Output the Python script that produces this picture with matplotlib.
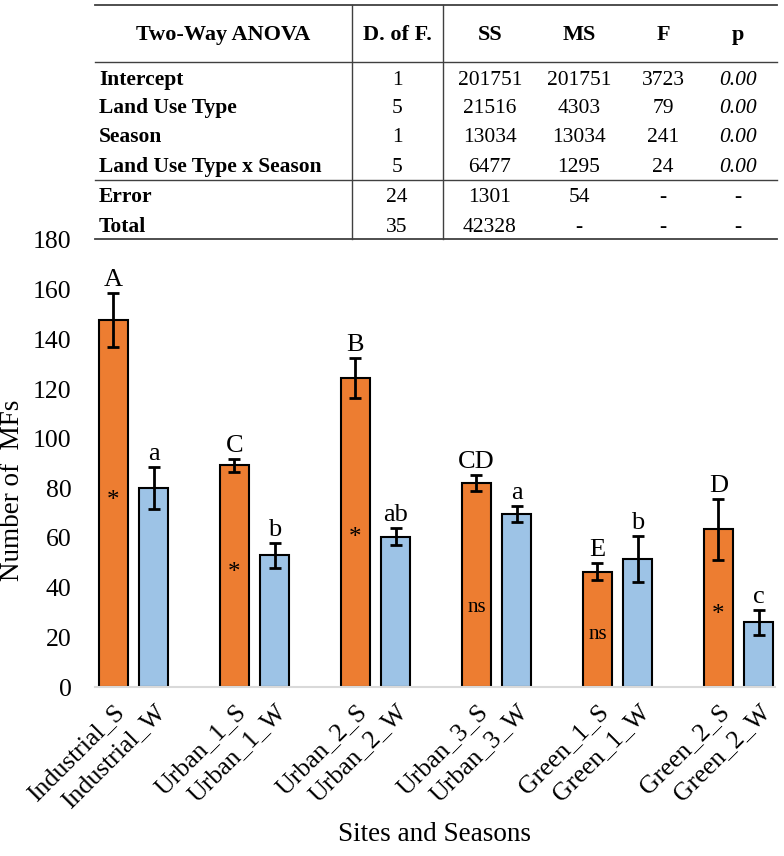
import numpy as np
import matplotlib.pyplot as plt

plt.rcParams['font.family'] = ['Liberation Serif', 'DejaVu Serif']

sites = ["Industrial", "Urban_1", "Urban_2", "Urban_3", "Green_1", "Green_2"]
summer = [147.7, 89.2, 124.4, 82.1, 46.4, 63.5]
summer_err = [10.8, 2.7, 8.0, 3.2, 3.5, 12.2]
winter = [80.0, 53.0, 60.5, 69.6, 51.5, 26.1]
winter_err = [8.5, 5.0, 3.4, 3.3, 9.3, 5.0]
summer_letters = ["A", "C", "B", "CD", "E", "D"]
winter_letters = ["a", "b", "ab", "a", "b", "c"]
signif = ["*", "*", "*", "ns", "ns", "*"]
signif_y = [76, 47, 61, 32, 21, 30]

tab_header = ["Two-Way ANOVA", "D. of F.", "SS", "MS", "F", "p"]
tab_rows = [
    ["Intercept", "1", "201751", "201751", "3723", "0.00"],
    ["Land Use Type", "5", "21516", "4303", "79", "0.00"],
    ["Season", "1", "13034", "13034", "241", "0.00"],
    ["Land Use Type x Season", "5", "6477", "1295", "24", "0.00"],
    ["Error", "24", "1301", "54", "-", "-"],
    ["Total", "35", "42328", "-", "-", "-"],
]

orange = "#ED7D31"
blue = "#9DC3E6"

fig = plt.figure(figsize=(7.84, 8.56), dpi=100)
W, H = 784, 856
ax = fig.add_axes([95 / W, 1 - 687 / H, 680 / W, 447 / H])

x = np.arange(len(sites))
off = 0.167
bw = 0.24
ax.bar(x - off, summer, bw, color=orange, edgecolor="black", linewidth=1.5, zorder=2)
ax.bar(x + off, winter, bw, color=blue, edgecolor="black", linewidth=1.5, zorder=2)
ax.errorbar(x - off, summer, yerr=summer_err, fmt="none", ecolor="black",
            elinewidth=2, capsize=4, capthick=2, zorder=3)
ax.errorbar(x + off, winter, yerr=winter_err, fmt="none", ecolor="black",
            elinewidth=2, capsize=4, capthick=2, zorder=3)

for i in range(len(sites)):
    ax.text(x[i] - off, summer[i] + summer_err[i] + 0.8, summer_letters[i],
            ha="center", va="bottom", fontsize=19)
    ax.text(x[i] + off, winter[i] + winter_err[i] + 0.8, winter_letters[i],
            ha="center", va="bottom", fontsize=19)
    if signif[i] == "*":
        ax.text(x[i] - off, signif_y[i] - 1, "*", ha="center", va="center", fontsize=18)
    else:
        ax.text(x[i] - off, signif_y[i], "ns", ha="center", va="center", fontsize=15)

ticks = []
labels = []
for i, s in enumerate(sites):
    ticks += [x[i] - off, x[i] + off]
    labels += [s + "_S", s + "_W"]
ax.set_xticks(ticks)
ax.set_xticklabels(labels, rotation=45, ha="right", rotation_mode="anchor", fontsize=18.5)
ax.tick_params(axis="x", length=0, pad=10)
ax.tick_params(axis="y", length=0, labelsize=18.5, pad=17)
ax.set_xlim(-0.318, 5.30)
ax.set_ylim(0, 180)
ax.set_yticks(np.arange(0, 181, 20))
for s in ["top", "right", "left"]:
    ax.spines[s].set_visible(False)
ax.spines["bottom"].set_color("#d9d9d9")
ax.spines["bottom"].set_linewidth(1.5)
ax.set_ylabel("Number of  MFs", fontsize=19.5)
ax.yaxis.set_label_coords(-0.103, 0.44)
ax.set_xlabel("Sites and Seasons", fontsize=19.5, labelpad=7)

# ANOVA table above the chart, in pixel coordinates
tx = fig.add_axes([0, 0, 1, 1], zorder=5)
tx.set_xlim(0, W)
tx.set_ylim(H, 0)
tx.axis("off")
tx.patch.set_alpha(0)
line_c = "#404040"
tx.plot([95, 777], [5, 5], color=line_c, lw=1.3)
tx.plot([95, 777], [62, 62], color=line_c, lw=1.0)
tx.plot([95, 777], [180, 180], color=line_c, lw=1.0)
tx.plot([95, 777], [239, 239], color=line_c, lw=1.3)
tx.plot([352, 352], [5, 239], color=line_c, lw=1.0)
tx.plot([443, 443], [5, 239], color=line_c, lw=1.0)

col_x = [223, 397, 490, 579, 663, 738]
for j, h in enumerate(tab_header):
    tx.text(col_x[j], 35, h, ha="center", va="center", fontsize=16, fontweight="bold")
row_y = [80, 108, 137, 167, 197, 227]
for r, row in enumerate(tab_rows):
    tx.text(99, row_y[r], row[0], ha="left", va="center", fontsize=15.5, fontweight="bold")
    for j in range(1, 6):
        st = "italic" if (j == 5 and row[j] != "-") else "normal"
        tx.text(col_x[j], row_y[r], row[j], ha="center", va="center", fontsize=15.5, style=st)

plt.savefig("out.png", dpi=100)
